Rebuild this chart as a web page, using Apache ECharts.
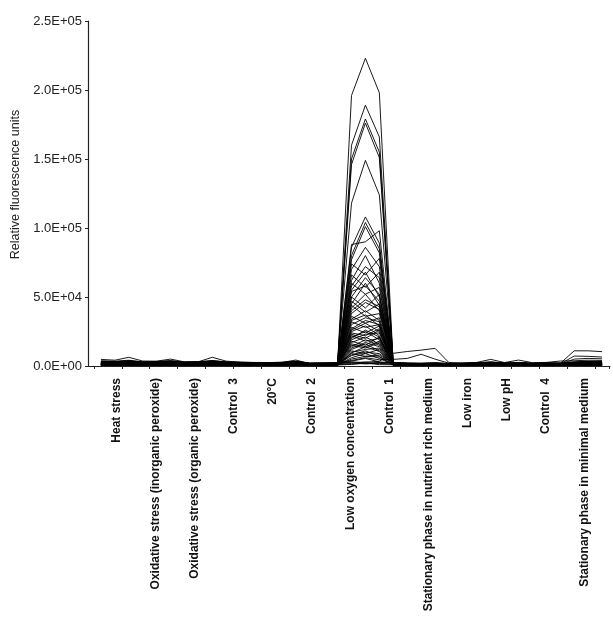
<!DOCTYPE html>
<html><head><meta charset="utf-8">
<script src="https://cdn.jsdelivr.net/npm/echarts@6/dist/echarts.min.js"></script>
<style>html,body{margin:0;padding:0;background:#fff}#c{width:613px;height:630px}</style>
</head><body><div id="c"></div>
<script>
const conditions = ['Heat stress','Oxidative stress (inorganic peroxide)','Oxidative stress (organic peroxide)','Control  3','20\u00B0C','Control  2','Low oxygen concentration','Control  1','Stationary phase in nutrient rich medium','Low iron','Low pH','Control  4','Stationary phase in minimal medium'];
const samples = ['1','2','3','4','5','6','7','8','9','10','11','12','13','14','15','16','17','18','19','20','21','22','23','24','25','26','27','28','29','30','31','32','33','34','35','36','37'];
const yTicks = [0, 50000, 100000, 150000, 200000, 250000];

const p01 = [1800,1600,2100,1500,1700,1900,1400,1600,2000,1500,1300,1400,1200,1500,1700,1100,1200,1300, 196000,223000,198000, 1500,1200,1100,1300,900,1000,1200,1400,1100,1300,1000,1200,1100,1400,1600,1500];
const p02 = [1200,1400,1300,1100,1500,1200,1000,1300,1400,1200,1100,900,1000,1200,1300,900,1000,1100, 160000,189000,166000, 1300,1000,900,1100,800,900,1000,1200,1000,1100,900,1000,1200,1300,1200,1100];
const p03 = [2200,2000,2600,1900,2100,2400,1800,2000,2500,1900,1700,1600,1500,1800,2100,1400,1500,1600, 150000,179000,155000, 1800,1500,1400,1600,1200,1300,1500,1800,1400,1600,1300,1500,1400,1900,2100,1900];
const p04 = [900,1100,1000,800,1000,900,700,900,1100,800,700,800,700,900,1000,600,700,800, 146000,176000,151000, 1000,800,700,900,600,700,800,900,700,800,700,800,900,1000,900,800];
const p05 = [2600,2400,3000,2200,2500,2800,2100,2300,2900,2200,2000,1900,1800,2000,2500,1600,1700,1800, 118000,149000,124000, 2000,1700,1600,1800,1400,1500,1700,2100,1600,1900,1500,1700,1600,2200,2500,2300];
const p06 = [1500,1300,1700,1200,1400,1500,1100,1300,1600,1200,1000,1100,1000,1200,1400,900,1000,1000, 86000,108000,89000, 1200,1000,900,1000,800,900,1000,1100,900,1000,800,900,1000,1200,1300,1200];
const p07 = [700,800,900,600,700,800,500,700,900,600,500,600,500,700,800,500,600,600, 80000,104000,85000, 800,600,500,700,400,500,600,700,500,600,500,600,700,800,700,700];
const p08 = [3000,2800,3500,2600,2900,3300,2500,2700,3400,2600,2300,2200,2100,2300,2900,1800,1900,2000, 77000,101000,82000, 2300,1900,1800,2000,1600,1700,2000,2500,1900,2200,1700,1900,1800,2600,2900,2700];
const p09 = [1100,1000,1300,900,1100,1200,800,1000,1200,900,800,900,800,1000,1100,700,800,800, 88000,90000,98000, 1000,800,700,800,600,700,800,900,700,800,600,700,800,900,1000,900];
const p10 = [1900,1700,2200,1600,1800,2000,1500,1700,2100,1600,1400,1300,1300,1500,1800,1200,1300,1400, 70000,86000,72000, 1600,1300,1200,1400,1100,1200,1300,1600,1200,1400,1100,1300,1200,1700,1900,1800];
const p11 = [500,600,700,400,600,600,400,500,700,500,400,500,400,500,600,400,400,500, 74000,66000,78000, 600,500,400,500,300,400,500,600,400,500,400,500,500,600,600,500];
const p12 = [1400,1200,1500,1100,1300,1400,1000,1200,1500,1100,900,1000,900,1100,1300,800,900,900, 62000,80000,60000, 1100,900,800,1000,700,800,900,1000,800,900,800,900,1000,1100,1200,1100];
const p13 = [2400,2200,2800,2100,2300,2600,2000,2200,2700,2000,1800,1700,1600,1900,2300,1500,1600,1700, 58000,72000,64000, 1900,1600,1500,1700,1300,1400,1600,1900,1500,1700,1400,1600,1500,2000,2300,2100];
const p14 = [800,900,1000,700,800,900,600,800,1000,700,600,700,600,800,900,500,600,700, 66000,57000,68000, 900,700,600,800,500,600,700,800,600,700,600,700,800,900,800,800];
const p15 = [1600,1500,1900,1400,1600,1700,1300,1500,1800,1300,1200,1200,1100,1300,1600,1000,1100,1200, 50000,64000,52000, 1400,1100,1000,1200,900,1000,1100,1300,1000,1200,1000,1100,1100,1400,1600,1500];
const p16 = [3400,3100,3900,2900,3200,3700,2800,3000,3800,2900,2600,2400,2300,2600,3200,2000,2100,2200, 54000,58000,47000, 2500,2100,2000,2200,1800,1900,2200,2800,2100,2400,1900,2100,2000,2800,3100,2900];
const p17 = [1000,1100,1200,900,1000,1100,800,1000,1200,900,800,800,700,900,1000,700,700,800, 45000,60000,44000, 900,800,700,800,600,700,800,900,700,800,700,800,800,1000,900,900];
const p18 = [2000,1800,2300,1700,1900,2100,1600,1800,2200,1700,1500,1400,1400,1600,1900,1300,1400,1500, 50000,42000,52000, 1700,1400,1300,1500,1200,1300,1400,1700,1300,1500,1200,1400,1300,1800,2000,1900];
const p19 = [600,700,800,500,700,700,500,600,800,600,500,500,500,600,700,400,500,500, 42000,52000,40000, 700,600,500,600,400,500,600,700,500,600,500,600,600,700,700,600];
const p20 = [1300,1200,1600,1100,1200,1400,1000,1100,1500,1100,900,1000,900,1000,1200,800,900,900, 38000,46000,41000, 1100,900,800,1000,700,800,900,1100,800,1000,800,900,900,1100,1300,1200];
const p21 = [2700,2500,3200,2400,2600,2900,2200,2400,3100,2300,2100,2000,1900,2100,2600,1700,1800,1900, 44000,36000,38000, 2100,1800,1700,1900,1500,1600,1800,2300,1700,2000,1600,1800,1700,2300,2600,2400];
const p22 = [400,500,600,300,500,500,300,400,600,400,300,400,300,400,500,300,300,400, 34000,40000,33000, 500,400,300,400,200,300,400,500,300,400,300,400,400,500,500,400];
const p23 = [1700,1600,2000,1500,1700,1800,1400,1600,1900,1400,1300,1300,1200,1400,1700,1100,1200,1300, 30000,35000,32000, 1500,1200,1100,1300,1000,1100,1200,1400,1100,1300,1100,1200,1200,1500,1700,1600];
const p24 = [1000,900,1200,800,1000,1000,700,900,1100,800,700,700,700,800,900,600,700,700, 32000,28000,30000, 900,700,600,800,500,600,700,800,600,700,600,700,700,900,900,800];
const p25 = [2300,2100,2700,2000,2200,2500,1900,2100,2600,1900,1700,1700,1600,1800,2200,1500,1500,1600, 26000,31000,25000, 1800,1500,1400,1600,1300,1400,1500,1800,1400,1600,1300,1500,1400,1900,2200,2000];
const p26 = [1200,1100,1400,1000,1100,1300,900,1000,1300,1000,900,900,800,1000,1100,800,800,900, 24000,22000,27000, 1100,900,800,900,700,800,900,1000,800,900,700,800,900,1000,1100,1000];
const p27 = [300,400,500,300,400,400,200,300,500,300,200,300,200,300,400,200,200,300, 20000,26000,21000, 400,300,200,300,200,200,300,400,200,300,200,300,300,400,400,300];
const p28 = [1800,1700,2100,1600,1700,1900,1500,1600,2000,1500,1400,1300,1300,1500,1800,1200,1200,1300, 22000,18000,20000, 1500,1300,1200,1400,1100,1100,1300,1500,1200,1400,1100,1300,1200,1600,1800,1700];
const p29 = [900,1000,1100,800,900,1000,700,900,1100,800,700,800,700,800,1000,600,700,700, 17000,21000,16000, 900,700,600,700,500,600,700,800,600,700,600,700,700,900,900,800];
const p30 = [2900,2700,3300,2500,2800,3100,2400,2600,3300,2500,2200,2100,2000,2200,2800,1800,1900,2000, 15000,13000,17000, 2200,1900,1800,2000,1600,1700,1900,2400,1800,2100,1700,1900,1800,2500,2800,2600];
const p31 = [1500,1400,1700,1300,1500,1600,1200,1400,1700,1300,1100,1100,1100,1300,1500,1000,1000,1100, 12000,16000,11000, 1300,1100,1000,1100,900,1000,1100,1300,1000,1100,900,1000,1100,1300,1400,1300];
const p32 = [700,600,800,500,700,700,500,600,800,600,500,600,500,600,700,500,500,600, 10000,12000,13000, 700,600,500,600,400,500,600,700,500,600,500,600,600,700,800,700];
const p33 = [2100,1900,2400,1800,2000,2200,1700,1900,2300,1800,1600,1500,1500,1700,2000,1400,1400,1500, 9000,7000,8000, 1700,1500,1400,1500,1300,1300,1500,1700,1400,1600,1300,1500,1400,1800,2000,1900];
const p34 = [1100,1200,1300,1000,1100,1200,900,1100,1300,1000,900,900,800,1000,1100,800,800,900, 6000,9000,5500, 1000,900,800,900,700,800,900,1000,800,900,700,800,900,1000,1100,1000];
const p35 = [3800,3500,4200,3000,3300,3900,2900,3100,4000,3000,2700,2600,2500,2700,3400,2200,2300,2400, 4000,6000,4500, 4800,5500,8500,5000,2000,2100,2400,3000,2300,2600,2100,2300,2200,3000,3400,3200];
const p36 = [2500,2300,2900,2100,2400,2700,2000,2200,2800,2100,1900,1800,1700,1900,2400,1600,1600,1700, 3000,2500,3500, 9200,10500,11500,12800,2500,1800,2000,2600,1900,2200,1800,2000,1900,2600,2900,2700];
const p37 = [3200,3000,3600,2700,3000,3400,2600,2800,3500,2700,2400,2300,2200,2400,3000,1900,2000,2100, 2000,3000,2500, 2300,2000,1900,2100,1700,1800,2100,2700,2000,2300,1800,2000,1900,11000,11000,10400];
const p38 = [1400,1300,1600,1200,1300,1500,1100,1300,1500,1200,1000,1000,1000,1200,1300,900,900,1000, 1500,1800,2000, 1200,1000,900,1100,800,900,1000,1200,900,1100,900,1000,1500,7200,7000,6500];
const p39 = [4800,4200,6300,3600,3500,5000,3000,3100,6300,3500,2800,2500,2500,2600,4300,1800,1800,1900, 2500,1500,2000, 2000,1800,1700,1900,2000,2200,2600,4800,2500,4300,2400,2600,3600,3800,4200,4000];
const p40 = [1000,900,1100,800,900,1000,700,900,1100,800,700,700,700,800,900,600,600,700, 1200,2200,1000, 900,800,700,800,600,700,800,900,700,800,700,800,1200,5000,5500,5200];
const p41 = [1600,1500,1800,1400,1500,1700,1300,1400,1800,1400,1200,1200,1100,1300,1600,1000,1100,1100, 28000,24000,29000, 1300,1100,1000,1200,900,1000,1100,1300,1000,1200,1000,1100,1100,1400,1500,1400];
const p42 = [500,600,600,400,500,600,400,500,600,400,400,400,400,500,500,300,400,400, 19000,23000,24000, 500,400,400,500,300,400,400,500,400,500,400,400,500,600,600,500];
const p43 = [2000,1900,2300,1800,1900,2100,1700,1800,2200,1700,1600,1500,1500,1600,2000,1300,1400,1400, 14000,19000,15000, 1600,1400,1300,1500,1200,1300,1400,1600,1300,1500,1200,1400,1300,1700,1900,1800];
const p44 = [1300,1200,1500,1100,1200,1300,1000,1100,1400,1100,900,900,900,1100,1200,800,900,900, 11000,9000,12000, 1100,900,900,1000,800,800,900,1100,900,1000,800,900,900,1200,1300,1200];
const p45 = [800,700,900,600,800,800,600,700,900,700,600,600,600,700,800,500,600,600, 8000,11000,7000, 800,700,600,700,500,600,700,800,600,700,600,700,700,800,900,800];
const p46 = [2600,2400,2900,2300,2500,2700,2100,2300,2800,2200,1900,1900,1800,2000,2500,1600,1700,1700, 36000,31000,35000, 1900,1700,1600,1800,1400,1500,1700,2000,1600,1800,1500,1700,1600,2100,2400,2200];
const p47 = [1100,1000,1200,900,1000,1100,800,1000,1200,900,800,800,800,900,1000,700,700,800, 25000,29000,22000, 1000,800,700,900,600,700,800,900,700,800,700,800,800,1000,1000,900];
const p48 = [1900,1800,2200,1700,1800,2000,1600,1700,2100,1600,1500,1400,1400,1500,1900,1300,1300,1400, 16000,14000,18000, 1500,1300,1200,1400,1100,1200,1300,1500,1200,1400,1100,1300,1200,1600,1800,1700];
const p49 = [1500,1600,1800,1300,1400,1600,1200,1500,1700,1300,1100,1200,1100,1200,1500,1000,1000,1100, 40000,48000,43000, 1200,1000,1000,1100,800,900,1000,1200,900,1100,900,1000,1000,1300,1400,1300];
const p50 = [2200,2100,2500,1900,2000,2300,1800,2000,2400,1800,1700,1600,1600,1700,2100,1400,1500,1500, 47000,39000,45000, 1700,1500,1400,1600,1200,1300,1500,1700,1300,1500,1300,1400,1400,1800,2000,1900];
const p51 = [600,700,800,500,600,700,500,600,700,500,500,500,500,600,600,400,500,500, 33000,37000,29000, 600,500,500,600,400,500,500,600,500,600,500,500,600,700,700,600];
const p52 = [1200,1300,1500,1100,1200,1300,1000,1100,1400,1100,1000,900,900,1000,1200,800,900,900, 27000,33000,30000, 1000,900,800,900,700,800,900,1000,800,900,800,900,900,1100,1200,1100];
const p53 = [2800,2600,3100,2400,2700,3000,2300,2500,3100,2400,2100,2000,1900,2100,2700,1700,1800,1900, 21000,25000,19000, 2100,1800,1700,1900,1500,1600,1800,2200,1700,2000,1600,1800,1700,2400,2700,2500];
const p54 = [900,800,1000,700,900,900,700,800,1000,700,600,700,600,700,900,500,600,600, 18000,15000,21000, 800,700,600,700,500,600,700,800,600,700,600,700,700,800,900,800];
const p55 = [1700,1500,1900,1400,1600,1800,1300,1500,1900,1400,1200,1200,1100,1300,1700,1000,1100,1100, 13000,17000,14000, 1400,1200,1100,1300,1000,1000,1200,1400,1100,1300,1000,1200,1100,1500,1700,1600];
const p56 = [400,500,500,300,400,500,300,400,500,300,300,300,300,400,400,200,300,300, 9500,14000,10500, 400,300,300,400,200,300,300,400,300,400,300,300,400,500,500,400];
const p57 = [2400,2200,2700,2000,2300,2600,1900,2100,2700,2000,1800,1700,1600,1800,2300,1500,1500,1600, 7500,10000,9000, 1800,1600,1500,1700,1300,1400,1600,1900,1500,1700,1400,1600,1500,2000,2300,2100];
const p58 = [1300,1100,1400,1000,1200,1300,900,1100,1400,1000,900,900,800,1000,1200,700,800,800, 5000,7000,6500, 1000,900,800,900,700,800,900,1000,800,900,700,800,800,1000,1100,1000];
const p59 = [3100,2900,3400,2700,2900,3200,2500,2700,3300,2600,2300,2200,2100,2300,2900,1900,2000,2100, 3500,5500,3000, 2300,2000,1900,2100,1700,1800,2000,2400,1900,2200,1800,2000,1900,2500,2800,2700];
const p60 = [1000,1100,1200,900,1000,1100,800,900,1200,900,800,800,700,900,1000,600,700,700, 55000,68000,50000, 900,800,700,800,600,700,800,900,700,800,700,800,800,900,1000,900];
const p61 = [1800,1600,2000,1500,1700,1900,1400,1600,2000,1500,1300,1300,1200,1400,1800,1100,1200,1200, 60000,52000,57000, 1400,1200,1100,1300,1000,1100,1200,1400,1100,1300,1000,1200,1100,1500,1700,1600];
const p62 = [700,800,900,600,700,800,500,700,800,600,500,600,500,600,700,400,500,500, 23000,20000,26000, 700,600,500,600,400,500,600,700,500,600,500,600,600,700,800,700];

const profiles = [p01,p02,p03,p04,p05,p06,p07,p08,p09,p10,p11,p12,p13,p14,p15,p16,p17,p18,p19,p20,p21,p22,p23,p24,p25,p26,p27,p28,p29,p30,p31,p32,p33,p34,p35,p36,p37,p38,p39,p40,p41,p42,p43,p44,p45,p46,p47,p48,p49,p50,p51,p52,p53,p54,p55,p56,p57,p58,p59,p60,p61,p62];
profiles.forEach((p,i)=>{ if(p.length!==samples.length) throw new Error('profile '+(i+1)+' has '+p.length); });

function sci(v){
  const parts = Number(v).toExponential(1).split('e');
  let e = parseInt(parts[1],10);
  const sign = e < 0 ? '-' : '+';
  e = Math.abs(e);
  return parts[0].toUpperCase() + 'E' + sign + (e < 10 ? '0' + e : '' + e);
}

const FONT = 'Liberation Sans, Arial, sans-serif';
const chart = echarts.init(document.getElementById('c'), null, {renderer:'canvas'});
const yMin = yTicks[0], yMax = yTicks[yTicks.length-1], yStep = yTicks[1]-yTicks[0];
const gridBase = {top: 21, bottom: 264, containLabel: false, outerBoundsMode: 'none'};
chart.setOption({
  animation: false,
  backgroundColor: '#fff',
  grid: [
    Object.assign({left: 94, right: 4}, gridBase),
    Object.assign({left: 88, right: 3}, gridBase),
    Object.assign({left: 97.5, right: 8.5}, gridBase)
  ],
  xAxis: [
    {gridIndex: 0, type: 'category', data: samples, boundaryGap: true,
     axisLine: {show: true, lineStyle: {color: '#222', width: 1}},
     axisTick: {show: true, length: 3, alignWithLabel: false, lineStyle: {color: '#222'}},
     axisLabel: {show: false}, splitLine: {show: false}},
    {gridIndex: 1, type: 'value', min: 0, max: 1,
     axisLine: {show: true, lineStyle: {color: '#222', width: 1}},
     axisTick: {show: false}, axisLabel: {show: false}, splitLine: {show: false}},
    {gridIndex: 2, type: 'category', data: conditions, boundaryGap: true,
     axisLine: {show: false}, axisTick: {show: false}, splitLine: {show: false},
     axisLabel: {show: true, interval: 0, rotate: 90, margin: 12, color: '#111',
       fontFamily: FONT, fontSize: 12, fontWeight: 'bold'}}
  ],
  yAxis: [
    {gridIndex: 0, type: 'value', min: yMin, max: yMax, interval: yStep, show: false},
    {gridIndex: 1, type: 'value', min: yMin, max: yMax, interval: yStep,
     name: 'Relative fluorescence units', nameLocation: 'middle', nameGap: 63,
     nameTextStyle: {fontFamily: FONT, fontSize: 12.5, color: '#222', padding: [0, 0, 0, 18]},
     axisLine: {show: true, lineStyle: {color: '#222', width: 1.2}},
     axisTick: {show: true, length: 3, lineStyle: {color: '#222'}},
     axisLabel: {show: true, margin: 6, formatter: sci, fontFamily: FONT, fontSize: 13, color: '#222'},
     splitLine: {show: false}},
    {gridIndex: 2, type: 'value', min: yMin, max: yMax, show: false}
  ],
  series: profiles.map((p,i)=>({
    name: 'p'+(i+1), type: 'line', xAxisIndex: 0, yAxisIndex: 0, data: p,
    symbol: 'none', silent: true,
    lineStyle: {color: '#000', width: 0.9}
  }))
});
</script>
</body></html>
